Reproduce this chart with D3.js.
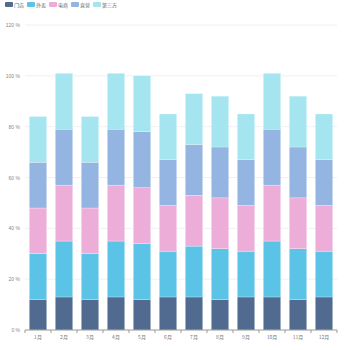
<!DOCTYPE html>
<html>
<head>
<meta charset="utf-8">
<script src="https://cdn.jsdelivr.net/npm/d3@7"></script>
<style>
    html, body { margin: 0; padding: 0; background: #fff; }
    svg { display: block; font-family: "Noto Sans CJK SC", "Noto Sans", sans-serif; }
</style>
</head>
<body>
<div id="chart"></div>
<script>
var months   = ["1月", "2月", "3月", "4月", "5月", "6月", "7月", "8月", "9月", "10月", "11月", "12月"];
var seriesNames = ["门店", "外卖", "电商", "直营", "第三方"];
var store    = [12, 13, 12, 13, 12, 13, 13, 12, 13, 13, 12, 13];
var takeout  = [18, 22, 18, 22, 22, 18, 20, 20, 18, 22, 20, 18];
var ecom     = [18, 22, 18, 22, 22, 18, 20, 20, 18, 22, 20, 18];
var direct   = [18, 22, 18, 22, 22, 18, 20, 20, 18, 22, 20, 18];
var third    = [18, 22, 18, 22, 22, 18, 20, 20, 18, 22, 20, 18];
var yTicks   = [0, 20, 40, 60, 80, 100, 120];
var colors   = ["#516a8f", "#5bc4e6", "#ecaed8", "#94b5e2", "#a5e5ef"];

(function () {
    var W = 350, H = 350;
    var margin = { top: 25, right: 13, bottom: 20, left: 25 };
    var iW = W - margin.left - margin.right;
    var iH = H - margin.top - margin.bottom;

    var svg = d3.select("#chart").append("svg")
        .attr("width", W).attr("height", H);
    var g = svg.append("g")
        .attr("transform", "translate(" + margin.left + "," + margin.top + ")");

    var seriesVals = [store, takeout, ecom, direct, third];
    var rows = months.map(function (m, i) {
        var r = { month: m };
        seriesNames.forEach(function (s, k) { r[s] = seriesVals[k][i]; });
        return r;
    });
    var stacked = d3.stack().keys(seriesNames)(rows);

    var x = d3.scaleBand().domain(months).range([0, iW]).paddingInner(0.33).paddingOuter(0.165);
    var y = d3.scaleLinear().domain([0, 120]).range([iH, 0]);

    // grid
    g.append("g").selectAll("line")
        .data(yTicks.slice(1))
        .enter().append("line")
        .attr("x1", 0).attr("x2", iW)
        .attr("y1", function (d) { return y(d); })
        .attr("y2", function (d) { return y(d); })
        .attr("stroke", "#eef0f5")
        .attr("stroke-width", 1);

    // bars
    g.append("g").selectAll("g")
        .data(stacked)
        .enter().append("g")
        .attr("fill", function (d, i) { return colors[i]; })
        .selectAll("rect")
        .data(function (d) { return d; })
        .enter().append("rect")
        .attr("x", function (d) { return x(d.data.month); })
        .attr("width", x.bandwidth())
        .attr("y", function (d) { return y(d[1]); })
        .attr("height", function (d) { return y(d[0]) - y(d[1]); })
        .attr("stroke", "rgba(255,255,255,0.5)")
        .attr("stroke-width", 0.5);

    // y labels
    var yAxis = g.append("g")
        .call(d3.axisLeft(y).tickValues(yTicks).tickSize(0).tickPadding(5)
            .tickFormat(function (v) { return v + " %"; }));
    yAxis.select(".domain").remove();
    yAxis.selectAll("text")
        .style("font-size", "5px").style("fill", "#888");

    // x axis
    var step = x.step();
    var xAxis = g.append("g").attr("transform", "translate(0," + iH + ")");
    xAxis.append("line")
        .attr("x1", 0).attr("x2", iW)
        .attr("stroke", "#999").attr("stroke-width", 1);
    xAxis.selectAll(".tk")
        .data(d3.range(months.length + 1))
        .enter().append("line")
        .attr("class", "tk")
        .attr("x1", function (i) { return i * step; })
        .attr("x2", function (i) { return i * step; })
        .attr("y1", 0).attr("y2", 3)
        .attr("stroke", "#999");
    xAxis.selectAll("text")
        .data(months)
        .enter().append("text")
        .attr("x", function (d) { return x(d) + x.bandwidth() / 2; })
        .attr("y", 9)
        .attr("text-anchor", "middle")
        .style("font-size", "5px").style("fill", "#777")
        .text(function (d) { return d; });

    // legend
    var legend = svg.append("g").attr("transform", "translate(5,2)");
    var offs = [0, 22, 44, 66, 88];
    seriesNames.forEach(function (s, i) {
        var lg = legend.append("g").attr("transform", "translate(" + offs[i] + ",0)");
        lg.append("rect")
            .attr("width", 8).attr("height", 5)
            .attr("rx", 1)
            .attr("fill", colors[i]);
        lg.append("text")
            .attr("x", 9).attr("y", 4.5)
            .style("font-size", "5px").style("fill", "#666")
            .text(s);
    });
}());
</script>
</body>
</html>
